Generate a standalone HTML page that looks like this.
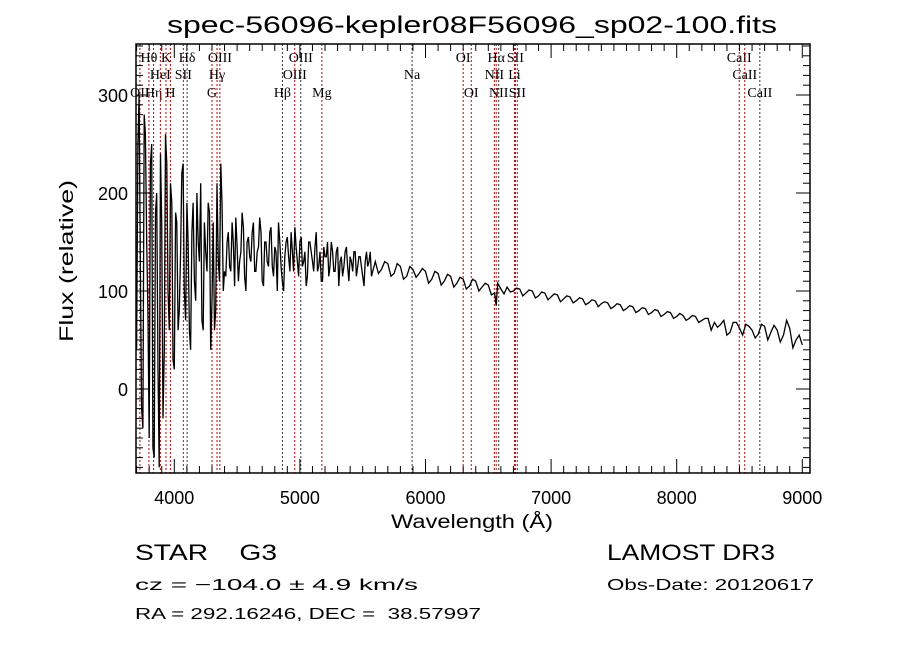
<!DOCTYPE html>
<html><head><meta charset="utf-8">
<style>
html,body{margin:0;padding:0;background:#fff;}
svg{display:block;}
text{font-family:"Liberation Sans",sans-serif;fill:#000;white-space:pre;}
.ser{font-family:"Liberation Serif",serif;}
</style></head>
<body>
<svg id="chart" width="900" height="649" viewBox="0 0 900 649" xmlns="http://www.w3.org/2000/svg" xml:space="preserve">
<rect width="900" height="649" fill="#fff"/>
<text x="472" y="33" font-size="24" text-anchor="middle" textLength="610" lengthAdjust="spacingAndGlyphs">spec-56096-kepler08F56096_sp02-100.fits</text>
<g id="lines"></g>
<g id="series"></g>
<g id="axes"></g>
<text x="472" y="528" font-size="19" text-anchor="middle" textLength="162" lengthAdjust="spacingAndGlyphs">Wavelength (Å)</text>
<text transform="translate(73,261) rotate(-90)" font-size="19" text-anchor="middle" textLength="162" lengthAdjust="spacingAndGlyphs">Flux (relative)</text>
<text x="135" y="560" font-size="22" textLength="142" lengthAdjust="spacingAndGlyphs">STAR    G3</text>
<text x="607" y="560" font-size="22" textLength="168" lengthAdjust="spacingAndGlyphs">LAMOST DR3</text>
<text x="135" y="590" font-size="16" textLength="283" lengthAdjust="spacingAndGlyphs">cz = −104.0 ± 4.9 km/s</text>
<text x="607" y="590" font-size="16" textLength="207" lengthAdjust="spacingAndGlyphs">Obs-Date: 20120617</text>
<text x="135" y="619" font-size="16" textLength="346" lengthAdjust="spacingAndGlyphs">RA = 292.16246, DEC =  38.57997</text>
</svg>
<script>
const wavelengths = [3700,3720,3740,3760,3780,3800,3820,3840,3860,3880,3900,3920,3940,3960,3980,4000,4020,4040,4060,4080,4100,4120,4140,4160,4180,4200,4220,4240,4260,4280,4300,4320,4340,4360,4380,4400,
4420,4440,4460,4480,4500,4520,4540,4560,4580,4600,4620,4640,4660,4680,4700,4720,4740,4760,4780,4800,4820,4840,4860,4880,4900,4920,4940,4960,4980,5000,5020,5040,5060,5080,5100,5120,5140,5160,5180,5200,5220,5240,5260,5280,5300,5320,5340,5360,5380,5400,5420,5440,5460,5480,5500,5520,5540,5560,5580,5600,
5650,5700,5750,5800,5850,5900,5950,6000,6050,6100,6150,6200,6250,6300,6350,6400,6450,6500,6550,6563,6600,6650,6700,6750,6800,6850,6900,6950,7000,7050,7100,7150,7200,7250,7300,7350,7400,7450,7500,7550,7600,7650,7700,7750,7800,7850,7900,7950,8000,8050,8100,8150,8200,8250,8300,8350,8400,8450,8500,8550,8600,8650,8700,8750,8800,8850,8900,8950,9000];
const fluxValues = [40,300,-20,280,150,-50,250,-70,200,-80,170,40,230,60,190,20,170,80,220,100,190,60,160,110,200,130,70,170,120,180,90,60,210,110,190,120,
150,125,170,105,145,130,180,115,150,135,160,120,140,175,110,150,130,160,125,145,100,150,110,135,155,120,140,165,130,150,125,140,115,150,130,145,120,140,110,135,150,125,140,120,145,130,115,140,125,135,120,140,125,135,115,130,125,140,120,130,
122,128,118,125,115,122,118,120,112,118,110,115,108,112,105,110,104,106,98,85,102,104,100,102,98,100,95,98,94,96,92,94,90,92,88,90,87,88,84,86,82,84,80,82,78,80,76,78,74,75,72,74,70,72,68,66,55,68,62,66,60,56,64,58,60,55,62,50,45];
const blueExtraFlux = [250,120,-40,260,80,230,-60,180,20,240,-30,260,100,210,30,180,60,140,230,70,150,40,190,90,150,210,60,140,190,40,170,80,130,230,100];
const midExtraFlux = [115,160,120,150,175,110,140,165,100,155,130,170,120,145,160,105,150,125,165,115,140,170,125,100,150,135,160,120,145,115,155,130,105,150,140,120,160,125,110,145,135,115,150,120,140,105,135,125,145,110,130,140,115,135,125,105,140,130,115,125];
const redExtraFlux = [118,130,115,128,112,125,114,123,108,120,106,117,104,114,102,112,100,108,96,108,97,99,103,95,101,93,99,91,97,89,95,88,93,86,91,84,89,82,87,80,85,78,83,76,81,74,79,72,77,70,75,68,72,60,63,70,58,68,55,64,52,66,50,65,48,70,42,55];
const lineWaves = [3726,3798,3835,3889,3934,3969,4072,4102,4300,4340,4363,4861,4959,5007,5175,5893,6300,6364,6548,6563,6583,6708,6716,6731,8498,8542,8662];
const lineLabels = [["OII",2],["Hθ",0],["Hη",2],["HeI",1],["K",0],["H",2],["SII",1],["Hδ",0],["G",2],["Hγ",1],["OIII",0],["Hβ",2],["OIII",1],["OIII",0],["Mg",2],["Na",1],["OI",0],["OI",2],["NII",1],["Hα",0],["NII",2],["Li",1],["SII",0],["SII",2],["CaII",0],["CaII",1],["CaII",2]];
const lineColors = ["r","r","r","r","r","r","r","k","r","r","r","k","r","k","r","k","r","r","r","r","k","r","r","r","r","r","k"];
const xTicks = [4000,5000,6000,7000,8000,9000];
const yTicks = [0,100,200,300];

const L=136,R=810,T=44,B=473;
const x=w=>174.3+(w-4000)*0.1256;
const y=v=>389-v*0.98;
const NS="http://www.w3.org/2000/svg";
function mk(tag,attrs,parent){const e=document.createElementNS(NS,tag);for(const k in attrs)e.setAttribute(k,attrs[k]);parent.appendChild(e);return e;}

// combine series
const pts=[];
wavelengths.forEach((w,i)=>pts.push([w,fluxValues[i]]));
blueExtraFlux.forEach((v,i)=>pts.push([3710+20*i,v]));
midExtraFlux.forEach((v,i)=>pts.push([4410+20*i,v]));
redExtraFlux.forEach((v,i)=>pts.push([5625+50*i,v]));
pts.sort((a,b)=>a[0]-b[0]);

const gl=document.getElementById('lines');
const rowY=[62,79,97];
lineWaves.forEach((w,i)=>{
  const ln=mk('line',{x1:x(w),x2:x(w),y1:T,y2:B,stroke:lineColors[i]==="r"?"#c00000":"#333","stroke-width":1,"stroke-dasharray":"2,2"},gl);
  
  
  const t=mk('text',{x:x(w),y:rowY[lineLabels[i][1]],"font-size":14,"text-anchor":"middle",class:"ser"},gl);
  t.textContent=lineLabels[i][0];
  
  
});

const gs=document.getElementById('series');
let d="";
pts.forEach((p,i)=>{const yy=Math.max(T,Math.min(B,y(p[1])));d+=(i?"L":"M")+x(p[0]).toFixed(1)+","+yy.toFixed(1);});
const p=mk('path',{d:d,fill:"none",stroke:"#000","stroke-width":1.3},gs);



const ga=document.getElementById('axes');
const fr=mk('rect',{x:L,y:T,width:R-L,height:B-T,fill:"none",stroke:"#000","stroke-width":1.5},ga);


for(let w=3700;w<=9000;w+=100){
  const major=w%1000===0;const len=major?14:7;
  mk('line',{x1:x(w),x2:x(w),y1:B,y2:B-len,stroke:"#000"},ga);
  mk('line',{x1:x(w),x2:x(w),y1:T,y2:T+len,stroke:"#000"},ga);
}
for(let v=-80;v<=350;v+=10){
  const major=v%100===0;const len=major?14:7;
  mk('line',{x1:L,x2:L+len,y1:y(v),y2:y(v),stroke:"#000"},ga);
  mk('line',{x1:R,x2:R-len,y1:y(v),y2:y(v),stroke:"#000"},ga);
}
xTicks.forEach(w=>{const t=mk('text',{x:x(w),y:504,"font-size":18,"text-anchor":"middle"},ga);t.textContent=w;
  
  });
yTicks.forEach(v=>{const t=mk('text',{x:128,y:y(v)+7,"font-size":18,"text-anchor":"end"},ga);t.textContent=v;
  
  });
</script>
</body></html>
